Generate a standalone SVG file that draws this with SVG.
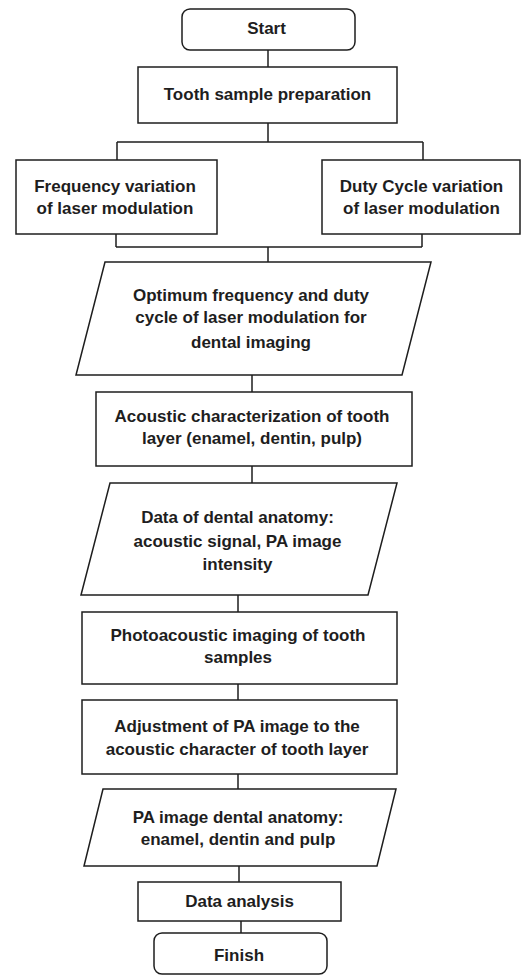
<svg xmlns="http://www.w3.org/2000/svg" width="522" height="976" viewBox="0 0 522 976">
<style>
.s{fill:#fff;stroke:#1e1e1e;stroke-width:1.5}
.c{fill:none;stroke:#1e1e1e;stroke-width:1.5}
text{font-family:"Liberation Sans",Arial,sans-serif;font-weight:bold;font-size:17px;fill:#1e1e1e;text-anchor:middle}
</style>
<rect width="522" height="976" fill="#fff"/>
<g id="connectors">
<path class="c" d="M268 50V67"/>
<path class="c" d="M268 123V142M117 142H423M117 142V160M423 142V160"/>
<path class="c" d="M116 234V247M422 234V247M116 247H422M268 247V262"/>
<path class="c" d="M252 375V392"/>
<path class="c" d="M252 466V483"/>
<path class="c" d="M238 595V612"/>
<path class="c" d="M238 684V700"/>
<path class="c" d="M238 774V789"/>
<path class="c" d="M239 866V882"/>
<path class="c" d="M241 921V933"/>
</g>
<g id="start">
<rect class="s" x="182" y="9" width="173" height="41" rx="8"/>
<text x="266.5" y="34">Start</text>
</g>
<g id="tooth-prep">
<rect class="s" x="138" y="67" width="259" height="56"/>
<text x="267.5" y="100">Tooth sample preparation</text>
</g>
<g id="freq-var">
<rect class="s" x="16" y="160" width="201" height="74"/>
<text x="115" y="192">Frequency variation</text>
<text x="115" y="214">of laser modulation</text>
</g>
<g id="duty-var">
<rect class="s" x="322" y="160" width="198" height="74"/>
<text x="421.5" y="192">Duty Cycle variation</text>
<text x="421.5" y="214">of laser modulation</text>
</g>
<g id="optimum">
<polygon class="s" points="105,262 431,262 402,375 76,375"/>
<text x="251" y="301">Optimum frequency and duty</text>
<text x="251" y="323">cycle of laser modulation for</text>
<text x="251" y="348">dental imaging</text>
</g>
<g id="acoustic-char">
<rect class="s" x="96" y="392" width="316" height="74"/>
<text x="252" y="422">Acoustic characterization of tooth</text>
<text x="252" y="444">layer (enamel, dentin, pulp)</text>
</g>
<g id="data-anatomy">
<polygon class="s" points="110,483 397,483 368,595 81,595"/>
<text x="237.5" y="523">Data of dental anatomy:</text>
<text x="237.5" y="547">acoustic signal, PA image</text>
<text x="237.5" y="570">intensity</text>
</g>
<g id="pa-imaging">
<rect class="s" x="82" y="612" width="315" height="72"/>
<text x="238" y="641">Photoacoustic imaging of tooth</text>
<text x="238" y="663">samples</text>
</g>
<g id="adjustment">
<rect class="s" x="82" y="700" width="315" height="74"/>
<text x="237" y="732">Adjustment of PA image to the</text>
<text x="237" y="755">acoustic character of tooth layer</text>
</g>
<g id="pa-anatomy">
<polygon class="s" points="103,789 396,789 377,866 84,866"/>
<text x="238" y="823">PA image dental anatomy:</text>
<text x="238" y="845">enamel, dentin and pulp</text>
</g>
<g id="data-analysis">
<rect class="s" x="138" y="882" width="203" height="39"/>
<text x="239.5" y="907">Data analysis</text>
</g>
<g id="finish">
<rect class="s" x="154" y="933" width="173" height="41" rx="8"/>
<text x="239" y="961">Finish</text>
</g>
</svg>
